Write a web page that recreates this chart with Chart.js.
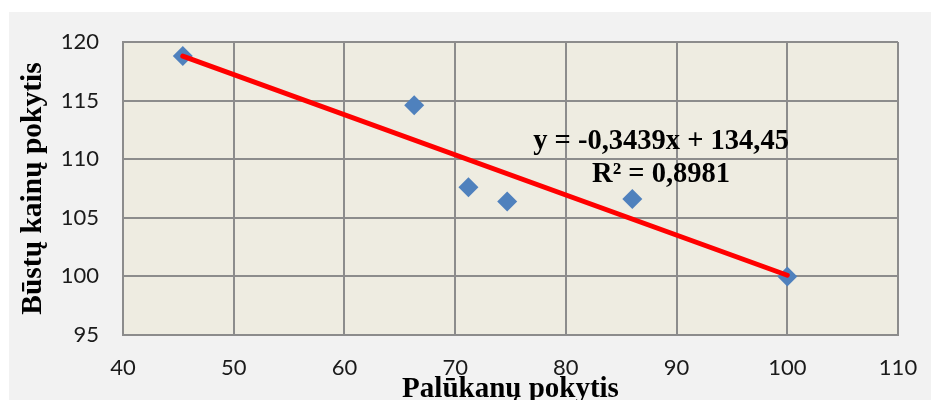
<!DOCTYPE html>
<html>
<head>
<meta charset="utf-8">
<script src="https://cdn.jsdelivr.net/npm/chart.js@4"></script>
<style>
  html, body { margin: 0; padding: 0; background: #fff; overflow: hidden; height: 400px; }
  #wrap { position: relative; width: 931px; height: 420px; }
</style>
</head>
<body>
<div id="wrap"><canvas id="chart"></canvas></div>
<script>
// values
const rateChange = [45.4, 66.3, 71.2, 74.7, 86.0, 100];
const priceChange = [118.8, 114.6, 107.6, 106.4, 106.6, 100];

// linear trendline ends (as drawn)
const trendX = [45.4, 100];
const trendY = [118.8, 100.1];

const equationLines = ['y = -0,3439x + 134,45', 'R² = 0,8981'];

const xTitle = 'Palūkanų pokytis';
const yTitle = 'Būstų kainų pokytis';

const points = rateChange.map((x, i) => ({ x: x, y: priceChange[i] }));
const trend = trendX.map((x, i) => ({ x: x, y: trendY[i] }));

const gridColor = '#8c8c8c';
const tickFont = { family: 'Lato', size: 22 };

// gray panel + beige plot area
const backgrounds = {
  id: 'backgrounds',
  beforeDraw(chart) {
    const { ctx, chartArea: a } = chart;
    ctx.save();
    ctx.fillStyle = '#f2f2f2';
    ctx.fillRect(9, 12, chart.width - 9, chart.height - 12);
    ctx.fillStyle = '#eeece1';
    ctx.fillRect(a.left, a.top, a.right - a.left, a.bottom - a.top);
    ctx.restore();
  }
};

// trendline equation text
const equation = {
  id: 'equation',
  afterDatasetsDraw(chart) {
    const { ctx, scales } = chart;
    const cx = scales.x.getPixelForValue(88.6);
    const cy = scales.y.getPixelForValue(110.9);
    ctx.save();
    ctx.font = 'bold 28.5px "Liberation Serif"';
    ctx.fillStyle = '#000';
    ctx.textAlign = 'center';
    ctx.textBaseline = 'alphabetic';
    ctx.fillText(equationLines[0], cx, cy);
    ctx.fillText(equationLines[1], cx, cy + 33);
    ctx.restore();
  }
};

new Chart(document.getElementById('chart'), {
  type: 'scatter',
  data: {
    datasets: [
      {
        type: 'line',
        data: trend,
        borderColor: '#ff0000',
        borderWidth: 5,
        borderCapStyle: 'round',
        pointRadius: 0,
        fill: false,
        order: 0,
      },
      {
        data: points,
        pointStyle: 'rectRot',
        pointRadius: 10,
        pointBackgroundColor: '#4f81bd',
        pointBorderColor: '#4f81bd',
        pointBorderWidth: 0,
        order: 1,
      },
    ],
  },
  options: {
    responsive: true,
    maintainAspectRatio: false,
    animation: false,
    layout: { padding: { left: 0, top: 42, right: 33, bottom: 0 } },
    plugins: {
      legend: { display: false },
      tooltip: { enabled: false },
    },
    scales: {
      x: {
        type: 'linear',
        min: 40,
        max: 110,
        afterFit(scale) {
          scale.height = 85;
          // keep the plot edges fixed, labels may overhang
          scale.paddingLeft = 0;
          scale.paddingRight = 0;
        },
        ticks: { stepSize: 10, font: tickFont, color: '#1a1a1a', padding: 20, maxRotation: 0 },
        grid: { color: gridColor, lineWidth: 2, drawTicks: false },
        border: { color: gridColor, width: 2 },
        title: {
          display: true, text: xTitle, color: '#000', padding: { bottom: 13 },
          font: { family: '"Liberation Serif"', size: 29, weight: 'bold' },
        },
      },
      y: {
        min: 95,
        max: 120,
        afterFit(scale) { scale.width = 123; },
        ticks: { stepSize: 5, font: tickFont, color: '#1a1a1a', padding: 24 },
        grid: { color: gridColor, lineWidth: 2, drawTicks: false },
        border: { color: gridColor, width: 2 },
        title: {
          display: true, text: yTitle, color: '#000', padding: { top: 16 },
          font: { family: '"Liberation Serif"', size: 29.5, weight: 'bold' },
        },
      },
    },
  },
  plugins: [backgrounds, equation],
});
</script>
</body>
</html>
